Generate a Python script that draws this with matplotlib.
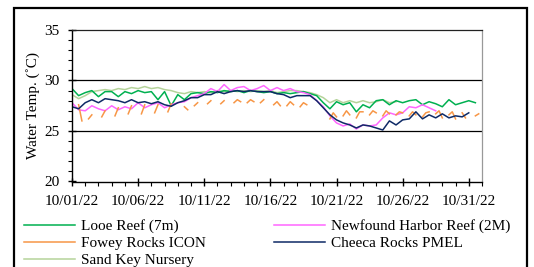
import numpy as np
import matplotlib
matplotlib.use("Agg")
from matplotlib import pyplot as plt
from matplotlib.patches import Rectangle
import matplotlib.ticker as mticker

nan = np.nan

# days since 10/01/22 00:00, half-day steps
t_half = np.arange(0, 31.01, 0.5)

looe = [29.2, 28.5, 28.8, 29.0, 28.4, 28.9, 28.9, 28.4, 28.9, 28.7,
        29.0, 28.8, 28.9, 28.1, 28.9, 27.5, 28.6, 28.1, 28.7, 28.8,
        28.7, 28.9, 28.8, 29.0, 28.9, 29.0, 28.8, 29.0, 28.9, 28.8,
        28.9, 28.7, 28.8, 28.7, 28.8, 28.9, 28.7, 28.5, 27.8, 27.2,
        27.9, 27.6, 27.8, 26.9, 27.6, 27.3, 28.0, 28.1, 27.6, 28.0,
        27.8, 28.0, 28.1, 27.6, 27.9, 27.7, 27.4, 28.1, 27.6, 27.8,
        28.0, 27.8, nan]

newfound = [27.8, 27.1, 27.0, 27.5, 27.2, 27.0, 27.5, 27.1, 27.4, 27.2,
            27.8, 27.3, 27.6, 27.8, 27.3, 27.6, 27.8, 27.9, 28.3, 28.5,
            28.7, 29.2, 28.9, 29.6, 29.0, 29.3, 29.4, 29.0, 29.2, 29.5,
            29.0, 29.3, 29.0, 29.2, 28.9, 28.8, 28.6, 28.0, 27.4, 26.5,
            25.8, 25.5, 25.7, 25.2, 25.6, 25.5, 25.6, 26.3, 26.8, 26.6,
            26.8, 27.4, 27.3, 27.6, 27.3, 27.0, nan, nan, nan, nan,
            nan, nan, nan]

cheeca = [27.4, 27.2, 27.8, 28.1, 27.8, 28.2, 28.1, 28.0, 27.8, 28.1,
          27.8, 27.9, 27.7, 27.9, 27.6, 27.45, 27.8, 28.0, 28.3, 28.3,
          28.6, 28.6, 28.9, 28.7, 28.9, 29.0, 28.9, 29.0, 28.9, 28.9,
          28.9, 28.7, 28.6, 28.3, 28.5, 28.5, 28.5, 28.0, 27.3, 26.6,
          26.1, 25.8, 25.6, 25.3, 25.6, 25.5, 25.3, 25.1, 26.0, 25.6,
          26.1, 26.2, 26.9, 26.2, 26.6, 26.3, 26.7, 26.3, 26.5, 26.4,
          26.8, nan, nan]

sand_key = [28.6, 28.2, 28.5, 28.9, 29.0, 29.1, 29.0, 29.2, 29.1, 29.3,
            29.2, 29.4, 29.2, 29.3, 29.1, 29.0, 28.8, 28.7, 28.9, 28.8,
            28.9, 28.8, 29.0, 28.9, 29.0, 28.9, 29.0, 28.9, 29.0, 28.9,
            29.0, 28.8, 28.9, 29.0, 29.0, 28.9, 28.8, 28.6, 28.3, 27.8,
            28.1, 27.8, 28.0, 27.8, 28.0, 27.8, 27.9, 28.1, 27.8, 27.9,
            nan, nan, nan, nan, nan, nan, nan, nan, nan, nan,
            nan, nan, nan]

# Fowey Rocks has gaps, quarter-day steps (one row per day)
t_quarter = np.arange(0, 31.01, 0.25)
fowey = [
    nan, nan, 27.6, 26.0,
    nan, 26.2, 26.6, nan,
    nan, 26.4, 27.0, nan,
    nan, 26.5, 27.3, nan,
    nan, 26.7, 27.5, nan,
    nan, 26.7, 27.6, nan,
    nan, 26.8, 27.6, nan,
    nan, 26.9, 27.7, nan,
    nan, nan, 27.4, 27.1,
    nan, 27.5, 27.8, nan,
    nan, 27.7, 28.0, nan,
    nan, 27.7, 28.0, nan,
    nan, 27.8, 28.1, 27.9,
    nan, 27.8, 28.1, 27.9,
    nan, 27.8, 28.1, nan,
    nan, 27.6, 27.9, 27.5,
    nan, 27.5, 27.9, 27.6,
    nan, 27.4, 27.8, 27.6,
    nan, nan, nan, nan,
    nan, nan, 26.2, 26.8,
    26.4, nan, 26.5, 27.0,
    26.6, nan, 26.3, 26.9,
    26.9, nan, 26.6, 27.0,
    26.8, nan, 26.5, 27.0,
    26.7, nan, 26.6, 26.9,
    26.8, nan, 26.5, 26.9,
    26.6, nan, 26.4, 26.8,
    26.9, nan, 26.7, 27.0,
    26.3, nan, 26.6, 26.9,
    26.2, nan, 26.8, 26.3,
    nan, nan, 26.5, 26.7,
    nan,
]

date_labels = ["10/01/22", "10/06/22", "10/11/22", "10/16/22",
               "10/21/22", "10/26/22", "10/31/22"]

plt.rcParams['font.family'] = ['Liberation Serif', 'DejaVu Serif']
plt.rcParams['font.size'] = 11

fig = plt.figure(figsize=(5.34, 2.67), dpi=100)
ax = fig.add_axes([72 / 534, 1 - 181.5 / 267, 410 / 534, 151.5 / 267])

l_looe, = ax.plot(t_half, looe, color='#00B050', lw=1.1, label='Looe Reef (7m)')
l_new, = ax.plot(t_half, newfound, color='#FF66FF', lw=1.1, label='Newfound Harbor Reef (2M)')
l_fow, = ax.plot(t_quarter, fowey, color='#F79646', lw=1.1, label='Fowey Rocks ICON')
l_sand, = ax.plot(t_half, sand_key, color='#B5D39A', lw=1.1, label='Sand Key Nursery')
l_chee, = ax.plot(t_half, cheeca, color='#0E2A66', lw=1.1, label='Cheeca Rocks PMEL')

# sand key drawn under looe / cheeca
l_sand.set_zorder(1.5)

ax.set_xlim(0, 31)
ax.set_ylim(20, 35)
ax.set_xticks(np.arange(0, 31, 5))
ax.set_xticklabels(date_labels)
ax.xaxis.set_minor_locator(mticker.MultipleLocator(1))
ax.set_yticks([20, 25, 30, 35])
ax.yaxis.set_minor_locator(mticker.MultipleLocator(1))
ax.tick_params(axis='both', which='major', direction='inout', length=6, width=1)
ax.tick_params(axis='x', which='major', pad=7)
ax.tick_params(axis='y', which='major', pad=6)
ax.tick_params(axis='both', which='minor', direction='out', length=3, width=0.8)

ax.set_ylabel('Water Temp. (\u02daC)', labelpad=3)

for y in (25, 30):
    ax.axhline(y, color='black', lw=0.9, zorder=0.5)

ax.spines['left'].set_linewidth(1.0)
ax.spines['bottom'].set_linewidth(1.0)
ax.spines['top'].set_color('#222222')
ax.spines['top'].set_linewidth(0.9)
ax.spines['right'].set_color('#999999')
ax.spines['right'].set_linewidth(0.9)

handles = [l_looe, l_fow, l_sand, l_new, l_chee]
fig.legend(handles, [h.get_label() for h in handles], ncol=2,
           loc='upper left', bbox_to_anchor=(18 / 534, 1 - 213 / 267),
           frameon=False, fontsize=11, handlelength=3.3, handletextpad=0.4,
           columnspacing=4.5, labelspacing=0.22, borderaxespad=0)

# outer chart border
fig.patches.append(Rectangle((14 / 534, -0.1), 513 / 534, 1.1 - 8 / 267,
                             transform=fig.transFigure, fill=False,
                             edgecolor='black', lw=1.6))

fig.savefig('out.png', dpi=100)
